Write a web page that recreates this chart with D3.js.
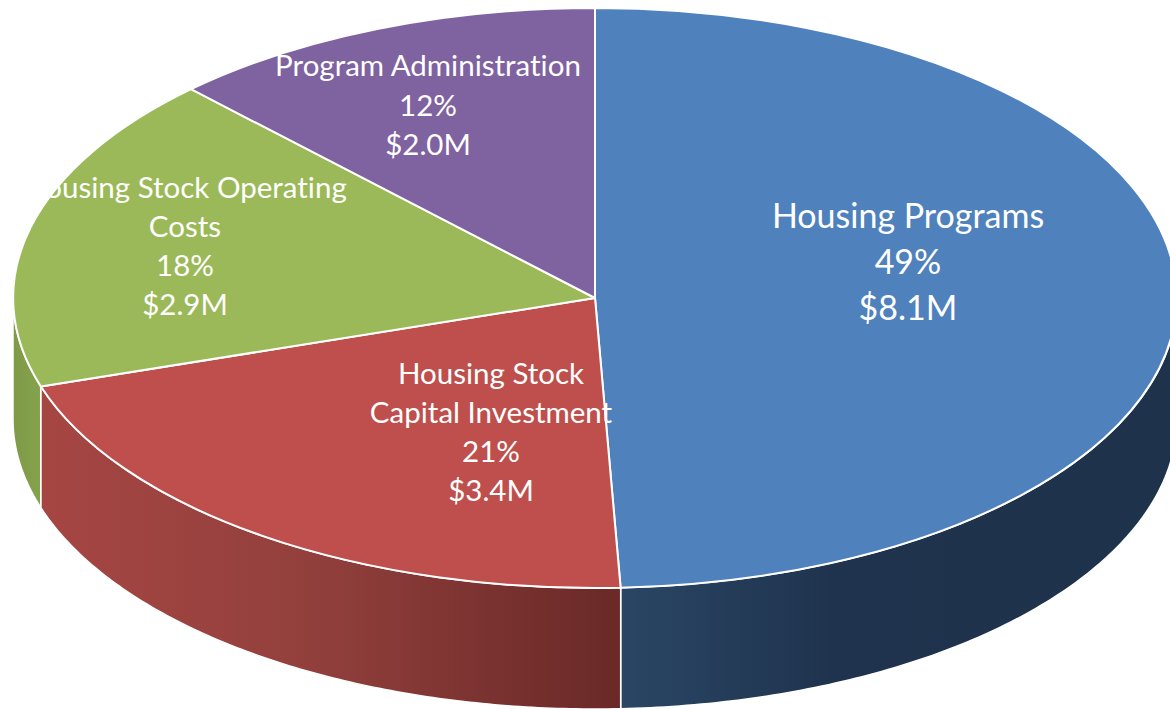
<!DOCTYPE html>
<html>
<head>
<meta charset="utf-8">
<script src="https://cdn.jsdelivr.net/npm/d3@7"></script>
<style>
  html, body { margin: 0; padding: 0; background: #fff; overflow: hidden; }
  text { font-family: Lato, "Open Sans", sans-serif; fill: #fff; text-anchor: middle; font-variant-ligatures: none; }
</style>
</head>
<body>
<svg id="chart"></svg>
<script>
// chart data
const categories = ["Housing Programs", "Housing Stock Capital Investment", "Housing Stock Operating Costs", "Program Administration"];
const amounts = [8.07, 3.4, 2.9, 2.0];
const labelLines = [
    ["Housing Programs", "49%", "$8.1M"],
    ["Housing Stock", "Capital Investment", "21%", "$3.4M"],
    ["Housing Stock Operating", "Costs", "18%", "$2.9M"],
    ["Program Administration", "12%", "$2.0M"]
];
const topColors = ["#4f81bd", "#be4f4c", "#9bb958", "#7f62a0"];

const width = 1170, height = 709;
const cx = 595, cy = 298, rx = 582, ry = 290, depth = 121;

// where each label block sits: centre x, first baseline, line spacing, font size
const labelLayout = [
    {x: 908, y: 228, step: 46, size: 34},
    {x: 491, y: 384, step: 39, size: 29.5},
    {x: 185, y: 198, step: 39, size: 29.5},
    {x: 428, y: 76, step: 39.5, size: 29.5}
];

const svg = d3.select("#chart").attr("width", width).attr("height", height);
const defs = svg.append("defs");

function wallGradient(id, x1, x2, stops){
    let g = defs.append("linearGradient")
        .attr("id", id)
        .attr("gradientUnits", "userSpaceOnUse")
        .attr("x1", x1).attr("x2", x2).attr("y1", 0).attr("y2", 0);
    stops.forEach(s => g.append("stop").attr("offset", s[0]).attr("stop-color", s[1]));
}
wallGradient("wall-blue", 621, 1177, [[0, "#2a4664"], [0.38, "#1f334e"], [1, "#1e324b"]]);
wallGradient("wall-red", 40, 621, [[0, "#a64643"], [0.45, "#93403d"], [1, "#692927"]]);
wallGradient("wall-green", 13, 40, [[0, "#7f9a48"], [1, "#84a24c"]]);

const pie = d3.pie().sort(null).value(d => d);
const slices = pie(amounts);

// unit circle -> tilted ellipse
const xScale = d3.scaleLinear().domain([-1, 1]).range([cx - rx, cx + rx]);
const yScale = d3.scaleLinear().domain([-1, 1]).range([cy - ry, cy + ry]);
const px = a => xScale(Math.sin(a));
const py = a => yScale(-Math.cos(a));

const wallArea = d3.area()
    .x(a => px(a))
    .y0(a => py(a))
    .y1(a => py(a) + depth);

// only the front half of the rim is visible
const wallIds = ["wall-blue", "wall-red", "wall-green"];
const walls = slices.slice(0, 3).map((s, i) => {
    let start = Math.max(s.startAngle, Math.PI / 2);
    let end = Math.min(s.endAngle, Math.PI * 1.5);
    let n = 120;
    return {id: wallIds[i], angles: d3.range(n + 1).map(k => start + (end - start) * k / n)};
});

svg.append("g").selectAll("path")
    .data(walls)
    .enter()
    .append("path")
    .attr("d", d => wallArea(d.angles))
    .attr("fill", d => `url(#${d.id})`)
    .attr("stroke", "#fff")
    .attr("stroke-width", 1.5)
    .attr("stroke-linejoin", "round");

// top face
const arc = d3.arc().innerRadius(0).outerRadius(1);
svg.append("g")
    .attr("transform", `translate(${cx},${cy}) scale(${rx},${ry})`)
    .selectAll("path")
    .data(slices)
    .enter()
    .append("path")
    .attr("d", arc)
    .attr("fill", (d, i) => topColors[i])
    .attr("stroke", "#fff")
    .attr("stroke-width", 2)
    .attr("stroke-linejoin", "round")
    .attr("vector-effect", "non-scaling-stroke");

// labels
const labels = svg.append("g").selectAll("g")
    .data(categories)
    .enter()
    .append("g")
    .attr("class", "label")
    .attr("font-size", (d, i) => labelLayout[i].size);

labels.selectAll("text")
    .data((d, i) => labelLines[i].map((line, k) => ({line: line, k: k, layout: labelLayout[i]})))
    .enter()
    .append("text")
    .attr("x", d => d.layout.x)
    .attr("y", d => d.layout.y + d.k * d.layout.step)
    .text(d => d.line);
</script>
</body>
</html>
